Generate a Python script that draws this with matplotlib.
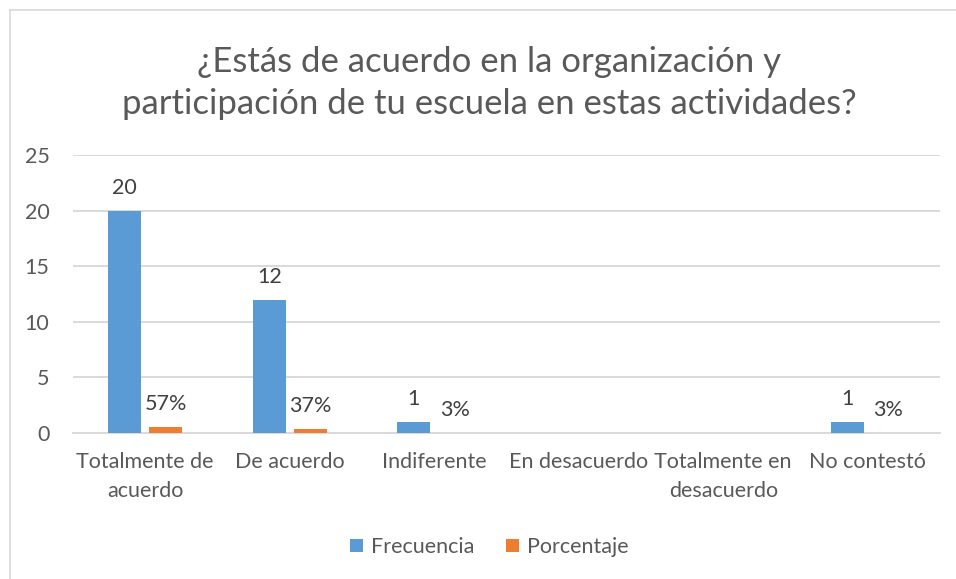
import numpy as np
import matplotlib
matplotlib.use('Agg')
import matplotlib.pyplot as plt
from matplotlib.lines import Line2D

plt.rcParams['font.family'] = ['Lato', 'DejaVu Sans']

# ---- Data ----
categories = ['Totalmente de\nacuerdo', 'De acuerdo', 'Indiferente', 'En desacuerdo',
              'Totalmente en\ndesacuerdo', 'No contestó']
frecuencia = [20, 12, 1, 0, 0, 1]
porcentaje = [0.57, 0.37, 0.03, 0, 0, 0.03]
pct_labels = ['57%', '37%', '3%', '', '', '3%']

title = '¿Estás de acuerdo en la organización y\nparticipación de tu escuela en estas actividades?'
yticks = [0, 5, 10, 15, 20, 25]

blue = '#5B9BD5'
orange = '#ED7D31'
text_gray = '#595959'
grid_gray = '#D9D9D9'

fig = plt.figure(figsize=(9.56, 5.79), dpi=100)
ax = fig.add_axes([73/956, 1 - 433/579, (940 - 73)/956, (433 - 155)/579])

x = np.arange(len(categories))
w = 0.228
off = 0.142

b1 = ax.bar(x - off, frecuencia, w, color=blue, label='Frecuencia', zorder=3)
b2 = ax.bar(x + off, porcentaje, w, color=orange, label='Porcentaje', zorder=3)

fs = 15.5
freq_labels = [str(v) if v > 0 else '' for v in frecuencia]
ax.bar_label(b1, labels=freq_labels, padding=9, fontsize=fs, color='#404040')
ax.bar_label(b2, labels=pct_labels, padding=9, fontsize=fs, color='#404040')

ax.set_xlim(-0.5, len(categories) - 0.5)
ax.set_ylim(0, 25)
ax.set_yticks(yticks)
ax.set_xticks(x)
ax.set_xticklabels(categories, fontsize=fs, color=text_gray, linespacing=1.55)
ax.tick_params(axis='y', labelsize=fs, labelcolor=text_gray, length=0, pad=17)
ax.tick_params(axis='x', length=0, pad=14)

ax.grid(axis='y', color=grid_gray, linewidth=1.4, zorder=0)
for s in ['top', 'right', 'left']:
    ax.spines[s].set_visible(False)
ax.spines['bottom'].set_color(grid_gray)
ax.spines['bottom'].set_linewidth(1.4)

fig.text(0.512, 1 - 83/579, title, ha='center', va='center', fontsize=25,
         color=text_gray, linespacing=1.4)

fig.legend(handles=[b1, b2], loc='center', bbox_to_anchor=(0.512, 1 - 547/579),
           ncol=2, frameon=False, fontsize=fs, labelcolor=text_gray,
           handlelength=0.6, handleheight=0.6, handletextpad=0.35, columnspacing=1.5)

# chart frame (cropped on right and bottom)
fig.add_artist(Line2D([10/956, 1], [1 - 10/579, 1 - 10/579], color=grid_gray, lw=1.2))
fig.add_artist(Line2D([10/956, 10/956], [0, 1 - 10/579], color=grid_gray, lw=1.2))

fig.savefig('out.png', dpi=100)
